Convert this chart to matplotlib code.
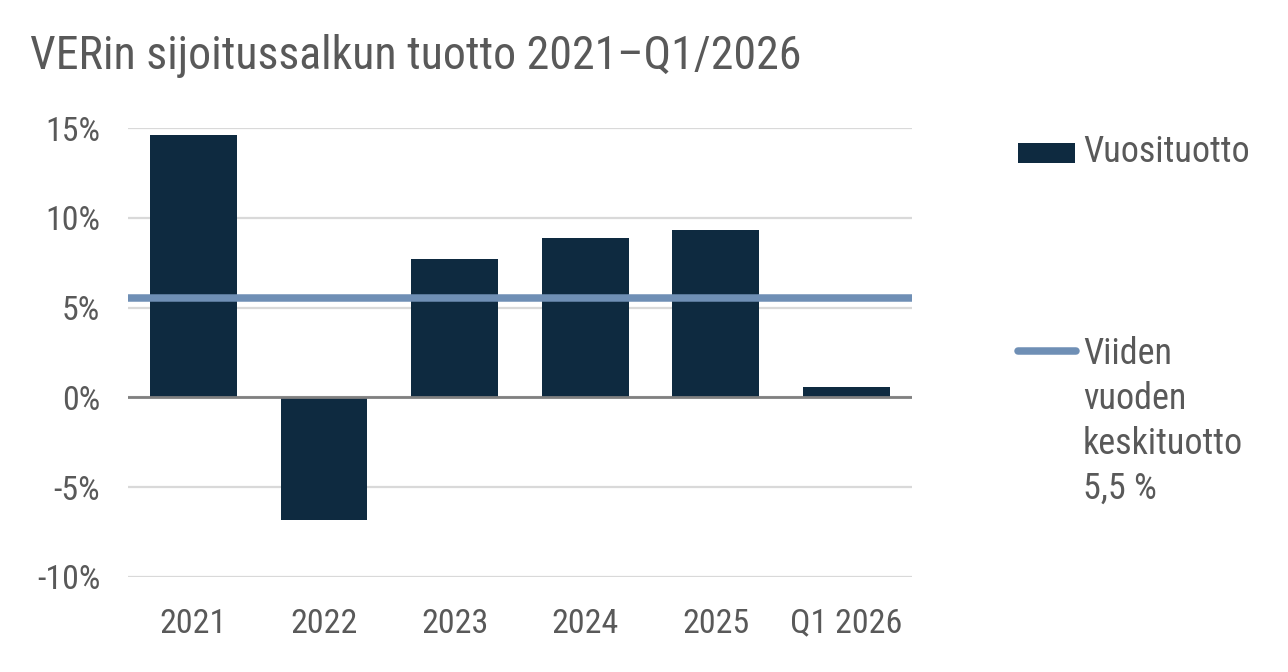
import matplotlib
matplotlib.use("Agg")
import matplotlib.pyplot as plt
import numpy as np
from matplotlib import font_manager
from matplotlib.lines import Line2D
from matplotlib.patches import Rectangle

categories = ["2021", "2022", "2023", "2024", "2025", "Q1 2026"]
returns = [14.6, -6.8, 7.7, 8.9, 9.3, 0.6]
avg_return = 5.55
yticks = [-10, -5, 0, 5, 10, 15]
ytick_labels = ["-10%", "-5%", "0%", "5%", "10%", "15%"]

title = "VERin sijoitussalkun tuotto 2021\u2013Q1/2026"
bar_label = "Vuosituotto"
line_label = "Viiden\nvuoden\nkeskituotto\n5,5 %"

BAR_COLOR = "#0e2a40"
LINE_COLOR = "#6f8fb5"
TEXT_COLOR = "#595959"

installed = {f.name for f in font_manager.fontManager.ttflist}
for fam in ["Roboto Condensed", "Liberation Sans Narrow", "Roboto", "DejaVu Sans"]:
    if fam in installed:
        plt.rcParams["font.family"] = fam
        break

fig = plt.figure(figsize=(12.88, 6.72), dpi=100)
ax = fig.add_axes([0.0994, 0.1414, 0.6086, 0.6681])

x = np.arange(len(categories))
ax.bar(x, returns, width=0.665, color=BAR_COLOR, zorder=2)
ax.axhline(avg_return, color=LINE_COLOR, lw=5.4, zorder=3)
ax.axhline(0, color="#808080", lw=2, zorder=2.5)

ax.set_xlim(-0.5, len(categories) - 0.5)
ax.set_ylim(-10, 15)
ax.set_yticks(yticks)
ax.set_yticklabels(ytick_labels)
ax.set_xticks(x)
ax.set_xticklabels(categories)
ax.tick_params(axis="both", length=0, labelsize=24.5, labelcolor=TEXT_COLOR)
ax.tick_params(axis="y", pad=20)
ax.tick_params(axis="x", pad=22)
ax.grid(axis="y", color="#d9d9d9", lw=1.6, zorder=1)
ax.set_axisbelow(True)
for s in ax.spines.values():
    s.set_visible(False)

fig.text(30 / 1288, 1 - 56 / 672, title, fontsize=33, color=TEXT_COLOR,
         ha="left", va="center")

# legend, drawn by hand so the line handle sits at the first line of its label
fig.add_artist(Rectangle((1018 / 1288, 1 - 163 / 672), 57 / 1288, 20 / 672,
                         transform=fig.transFigure, facecolor=BAR_COLOR,
                         edgecolor="none"))
fig.text(1083 / 1288, 1 - 152 / 672, bar_label, fontsize=26, color=TEXT_COLOR,
         ha="left", va="center")
fig.add_artist(Line2D([1018 / 1288, 1076 / 1288], [1 - 351 / 672, 1 - 351 / 672],
                      transform=fig.transFigure, color=LINE_COLOR, lw=5.4,
                      solid_capstyle="round"))
fig.text(1083 / 1288, 1 - 336 / 672, line_label, fontsize=26, color=TEXT_COLOR,
         ha="left", va="top", linespacing=1.32)

fig.savefig("out.png", dpi=100)
